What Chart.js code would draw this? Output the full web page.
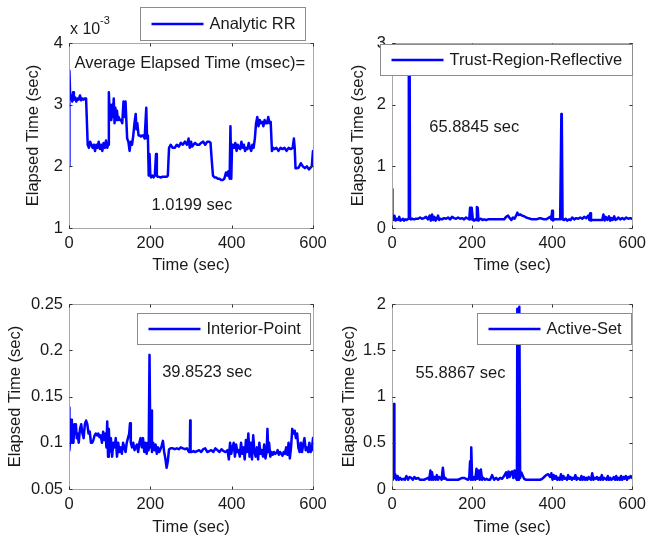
<!DOCTYPE html>
<html><head><meta charset="utf-8">
<script src="https://cdn.jsdelivr.net/npm/chart.js@4.4.1/dist/chart.umd.min.js"></script>
<style>
html,body{margin:0;padding:0;background:#fff;}
#wrap{position:relative;width:652px;height:537px;overflow:hidden;}
#wrap canvas{position:absolute;left:0;top:0;}
</style></head><body>
<div id="wrap">
<canvas id="c1" width="652" height="537"></canvas>
<canvas id="c2" width="652" height="537"></canvas>
<canvas id="c3" width="652" height="537"></canvas>
<canvas id="c4" width="652" height="537"></canvas>
</div>
<script>
// ---------- DATA ----------
const xTicks = [0, 200, 400, 600];

// Analytic RR (elapsed time, x 10^-3 sec)
const timeRR = [
 0,1,3,5,8,10,12,15,18,21,
 24,27,30,33,36,39,42,44,46,49,
 52,55,58,61,64,67,70,73,76,79,
 82,85,88,91,94,96,98,100,102,104,
 106,108,110,112,114,116,118,120,122,125,
 128,131,134,137,139,141,143,146,149,152,
 155,158,161,164,166,168,171,174,177,180,
 183,186,188,190,192,194,196,198,200,202,
 205,208,211,214,216,218,221,225,230,235,
 240,243,246,250,255,260,265,270,275,280,
 285,290,294,297,300,303,306,310,315,320,
 325,330,335,340,345,348,351,354,358,362,
 366,370,374,378,382,386,389,392,395,397,
 399,401,403,406,409,412,415,418,421,424,
 427,430,433,436,439,442,445,448,451,454,
 457,460,463,466,469,472,475,478,481,484,
 487,490,493,496,499,502,505,510,515,520,
 525,530,535,540,545,550,553,555,557,560,
 565,570,575,580,585,590,594,597,600];
const analyticRR = [
 2.0,3.55,3.1,3.15,3.05,3.2,3.08,3.12,3.05,3.1,
 3.08,3.15,3.07,3.1,3.08,3.1,3.1,3.1,2.35,2.3,
 2.4,2.35,2.3,2.35,2.25,2.35,2.3,2.4,2.28,2.35,
 2.25,2.38,2.3,2.42,2.3,2.35,3.2,2.8,3.0,2.75,
 3.0,2.8,3.1,2.7,2.95,2.75,2.9,2.75,2.8,2.75,
 2.75,2.7,3.05,2.8,3.05,2.75,2.45,2.4,2.25,2.4,
 2.35,2.5,2.7,2.85,2.6,2.7,2.5,2.5,2.48,2.5,
 2.5,2.45,2.7,2.95,2.45,2.5,1.85,2.2,1.85,1.82,
 1.85,1.82,1.85,2.2,1.85,1.83,1.83,1.82,1.83,1.83,
 1.83,1.85,2.3,2.35,2.3,2.3,2.35,2.32,2.38,2.35,
 2.4,2.35,2.45,2.3,2.4,2.32,2.35,2.38,2.35,2.35,
 2.38,2.4,2.35,2.4,2.4,2.38,2.1,1.85,1.82,1.82,
 1.8,1.8,1.78,1.78,1.8,1.9,1.85,1.92,1.8,2.65,
 1.8,2.35,2.3,2.3,2.38,2.25,2.35,2.3,2.28,2.4,
 2.3,2.35,2.25,2.3,2.28,2.38,2.3,2.25,2.35,2.3,
 2.45,2.7,2.8,2.65,2.75,2.7,2.72,2.65,2.75,2.7,
 2.7,2.8,2.7,2.72,2.25,2.3,2.28,2.3,2.25,2.3,
 2.28,2.3,2.25,2.3,2.28,2.3,2.45,2.3,1.97,1.97,
 1.98,2.05,2.0,1.97,2.0,1.95,1.98,2.0,2.25];

// Trust-Region-Reflective (sec)
const timeTRR = [
 0,1,3,6,9,12,15,18,21,24,
 27,30,33,36,39,41,42,44,45,47,
 50,55,60,65,70,75,80,85,90,94,
 97,100,103,106,109,112,115,118,121,125,
 130,135,140,145,150,155,160,165,170,175,
 180,185,190,193,195,197,199,202,205,208,
 210,212,214,216,218,222,226,230,235,240,
 245,250,255,260,265,270,275,280,285,290,
 294,298,302,306,310,313,316,320,325,330,
 335,340,345,350,355,360,365,370,375,380,
 385,390,395,398,400,402,405,410,415,420,
 422,423,424,426,430,434,438,442,446,450,
 455,460,465,470,475,480,485,490,493,495,
 497,500,505,510,515,520,525,528,531,534,
 538,542,545,548,551,555,558,561,565,570,
 575,580,585,590,595,600];
const trustRegion = [
 0.63,0.2,0.13,0.2,0.12,0.15,0.13,0.18,0.12,0.13,
 0.15,0.12,0.14,0.13,0.14,0.15,2.9,2.9,0.16,0.14,
 0.15,0.14,0.15,0.15,0.17,0.15,0.16,0.18,0.14,0.2,
 0.12,0.22,0.13,0.18,0.12,0.15,0.2,0.13,0.15,0.14,
 0.16,0.15,0.17,0.14,0.18,0.16,0.15,0.17,0.15,0.16,
 0.14,0.17,0.15,0.14,0.33,0.14,0.33,0.13,0.12,0.14,
 0.13,0.34,0.33,0.12,0.14,0.15,0.13,0.14,0.13,0.14,
 0.14,0.14,0.14,0.14,0.14,0.14,0.14,0.14,0.18,0.2,
 0.16,0.13,0.17,0.15,0.2,0.25,0.21,0.22,0.2,0.19,
 0.17,0.16,0.15,0.14,0.14,0.14,0.15,0.16,0.15,0.14,
 0.14,0.16,0.18,0.14,0.28,0.12,0.14,0.14,0.14,0.14,
 0.14,1.85,1.84,0.14,0.13,0.15,0.12,0.14,0.13,0.17,
 0.14,0.16,0.15,0.17,0.15,0.18,0.16,0.2,0.13,0.24,
 0.12,0.13,0.13,0.13,0.13,0.13,0.13,0.22,0.12,0.18,
 0.13,0.19,0.12,0.16,0.13,0.19,0.13,0.14,0.17,0.14,
 0.16,0.14,0.17,0.15,0.16,0.15];

// Interior-Point (sec)
const timeIP = [
 0,1,3,5,7,9,11,13,15,17,
 19,21,24,27,30,33,36,39,42,45,
 48,51,54,57,60,63,66,69,72,75,
 78,81,84,87,90,92,94,96,98,100,
 103,106,109,112,115,118,121,124,127,130,
 133,136,139,142,145,148,150,152,155,158,
 161,164,167,170,173,176,179,182,185,188,
 191,194,196,198,200,202,204,207,210,213,
 216,219,222,225,228,231,234,237,240,243,
 246,250,255,260,265,270,275,280,285,290,
 295,297,298,299,302,306,310,315,320,325,
 330,335,340,345,350,355,360,365,370,375,
 380,385,390,393,396,399,402,405,408,411,
 414,417,420,423,426,429,432,435,438,441,
 444,447,450,453,456,459,462,465,468,471,
 474,477,480,483,486,488,490,492,495,498,
 501,504,507,510,513,516,519,522,525,528,
 531,534,537,540,543,546,549,552,555,558,
 561,564,567,570,573,576,579,582,585,588,
 591,594,597,600];
const interiorPoint = [
 0.138,0.092,0.105,0.125,0.1,0.115,0.1,0.12,0.11,0.12,
 0.105,0.11,0.1,0.115,0.12,0.11,0.105,0.12,0.124,0.12,
 0.11,0.112,0.1,0.1,0.103,0.108,0.11,0.108,0.11,0.106,
 0.108,0.1,0.112,0.103,0.11,0.095,0.123,0.085,0.115,0.09,
 0.105,0.085,0.1,0.095,0.105,0.085,0.1,0.09,0.095,0.088,
 0.1,0.095,0.09,0.1,0.105,0.11,0.121,0.1,0.095,0.1,
 0.092,0.095,0.098,0.09,0.1,0.105,0.095,0.105,0.09,0.1,
 0.088,0.1,0.092,0.195,0.095,0.135,0.09,0.1,0.092,0.098,
 0.088,0.095,0.09,0.093,0.097,0.102,0.09,0.083,0.073,0.08,
 0.093,0.094,0.094,0.093,0.094,0.093,0.095,0.094,0.093,0.094,
 0.09,0.09,0.124,0.09,0.09,0.091,0.09,0.091,0.092,0.09,
 0.093,0.094,0.09,0.091,0.092,0.09,0.094,0.092,0.09,0.093,
 0.091,0.09,0.092,0.082,0.1,0.088,0.095,0.1,0.085,0.098,
 0.09,0.092,0.085,0.1,0.088,0.095,0.082,0.103,0.09,0.11,
 0.085,0.1,0.082,0.108,0.09,0.085,0.095,0.082,0.1,0.088,
 0.092,0.085,0.098,0.083,0.09,0.115,0.09,0.1,0.085,0.09,
 0.087,0.09,0.088,0.089,0.092,0.087,0.09,0.088,0.086,0.09,
 0.088,0.095,0.087,0.1,0.083,0.095,0.115,0.11,0.113,0.105,
 0.11,0.095,0.09,0.1,0.09,0.098,0.105,0.092,0.095,0.09,
 0.1,0.09,0.092,0.105];

// Active-Set (sec)
const timeAS = [
 0,2,4,5,6,8,11,14,17,20,
 24,28,32,36,40,44,48,52,56,60,
 65,70,75,80,85,90,93,96,98,100,
 103,106,109,112,115,118,121,124,127,130,
 133,137,141,145,150,155,160,165,170,175,
 180,185,190,193,195,197,198,200,202,205,
 208,211,213,216,219,222,225,228,232,236,
 240,245,250,255,260,265,270,275,280,285,
 288,291,294,297,300,303,306,309,312,313,
 315,317,318,320,323,326,330,335,340,345,
 350,355,360,365,370,375,380,385,390,395,
 398,401,404,407,410,413,416,419,422,425,
 428,431,434,437,440,443,446,449,452,455,
 458,461,464,467,470,473,476,479,482,485,
 488,491,494,497,500,503,506,509,512,515,
 518,521,524,527,530,533,536,539,542,545,
 548,551,554,557,560,563,566,569,572,575,
 578,581,584,587,590,593,596,600];
const activeSet = [
 0.2,0.1,0.12,0.92,0.12,0.16,0.1,0.14,0.1,0.12,
 0.1,0.11,0.1,0.14,0.1,0.13,0.12,0.1,0.13,0.11,
 0.12,0.1,0.1,0.1,0.11,0.12,0.1,0.2,0.1,0.18,
 0.1,0.13,0.1,0.15,0.1,0.13,0.12,0.1,0.23,0.11,
 0.12,0.1,0.1,0.1,0.1,0.1,0.1,0.1,0.11,0.12,
 0.12,0.11,0.1,0.13,0.3,0.1,0.45,0.12,0.1,0.13,
 0.1,0.22,0.11,0.2,0.1,0.21,0.1,0.12,0.1,0.11,
 0.1,0.1,0.15,0.1,0.12,0.1,0.12,0.11,0.14,0.18,
 0.12,0.19,0.13,0.18,0.19,0.12,0.2,0.12,0.1,1.95,
 0.1,1.2,1.97,0.12,0.18,0.15,0.11,0.1,0.1,0.1,
 0.1,0.1,0.1,0.1,0.1,0.11,0.13,0.15,0.16,0.13,
 0.17,0.1,0.15,0.11,0.14,0.1,0.12,0.1,0.16,0.1,
 0.14,0.11,0.12,0.1,0.15,0.11,0.13,0.1,0.12,0.11,
 0.15,0.1,0.12,0.11,0.1,0.14,0.1,0.13,0.1,0.12,
 0.1,0.13,0.11,0.1,0.17,0.1,0.12,0.11,0.13,0.1,
 0.12,0.1,0.15,0.1,0.12,0.11,0.1,0.14,0.1,0.12,
 0.1,0.11,0.13,0.1,0.14,0.1,0.12,0.1,0.14,0.1,
 0.13,0.11,0.14,0.1,0.13,0.12,0.14,0.12];

const seriesLabels = ['Analytic RR', 'Trust-Region-Reflective', 'Interior-Point', 'Active-Set'];
const totalTimes = ['1.0199 sec', '65.8845 sec', '39.8523 sec', '55.8867 sec'];

// ---------- RENDER ----------
const FAMILY = '"Liberation Sans", Arial, Helvetica, sans-serif';
const FS = 16.5;
const FONT = {family: FAMILY, size: FS, lineHeight: 1.2};
const TXT = '#1a1a1a';

const decor = {
  id: 'decor',
  afterDatasetsDraw(chart, args, o) {
    const {ctx, chartArea: a, scales: {x, y}} = chart;
    ctx.save();
    // axes box
    const L = Math.round(a.left) + 0.5, R = Math.round(a.right) + 0.5;
    const T = Math.round(a.top) + 0.5, B = Math.round(a.bottom) + 0.5;
    ctx.strokeStyle = '#a8a8a8'; ctx.lineWidth = 1;
    ctx.strokeRect(L, T, R - L, B - T);
    // inward ticks
    ctx.strokeStyle = '#303030';
    ctx.beginPath();
    x.ticks.forEach(t => {
      const p = Math.round(x.getPixelForValue(t.value)) + 0.5;
      ctx.moveTo(p, B); ctx.lineTo(p, B - 3);
      ctx.moveTo(p, T); ctx.lineTo(p, T + 3);
    });
    y.ticks.forEach(t => {
      const p = Math.round(y.getPixelForValue(t.value)) + 0.5;
      ctx.moveTo(L, p); ctx.lineTo(L + 3, p);
      ctx.moveTo(R, p); ctx.lineTo(R - 3, p);
    });
    ctx.stroke();
    // annotation texts (data coordinates)
    ctx.fillStyle = TXT;
    ctx.font = FS + 'px ' + FAMILY;
    ctx.textBaseline = 'middle';
    (o.texts || []).forEach(t => {
      ctx.textAlign = t.align || 'left';
      ctx.fillText(t.text, x.getPixelForValue(t.x), y.getPixelForValue(t.y));
    });
    // exponent label
    if (o.exponent) {
      ctx.textAlign = 'left';
      ctx.font = '16px ' + FAMILY;
      ctx.fillText('x 10', a.left + 1, a.top - 13);
      ctx.font = '11px ' + FAMILY;
      ctx.fillText(o.exponent, a.left + 31, a.top - 22);
    }
    // legend
    const lg = o.legend;
    ctx.font = FS + 'px ' + FAMILY;
    const tw = ctx.measureText(lg.text).width;
    const w = 69 + tw + 10, h = lg.h;
    const bx = Math.round(a.right - lg.dr - w) + 0.5, by = Math.round(a.top + lg.dt) + 0.5;
    ctx.fillStyle = '#ffffff';
    ctx.fillRect(bx, by, w, h);
    ctx.strokeStyle = '#8c8c8c'; ctx.lineWidth = 1;
    ctx.strokeRect(bx, by, Math.round(w), h);
    const cy = by + h / 2;
    ctx.strokeStyle = '#0000ff'; ctx.lineWidth = 2.5;
    ctx.beginPath(); ctx.moveTo(bx + 11, cy); ctx.lineTo(bx + 63, cy); ctx.stroke();
    ctx.fillStyle = TXT; ctx.textAlign = 'left'; ctx.textBaseline = 'middle';
    ctx.fillText(lg.text, bx + 69, cy + 0.5);
    ctx.restore();
  }
};

function makeChart(id, xs, ys, cfg) {
  if (xs.length !== ys.length) throw new Error(id + ' length mismatch ' + xs.length + ' vs ' + ys.length);
  const pts = xs.map((t, i) => ({x: t, y: ys[i]}));
  return new Chart(document.getElementById(id), {
    type: 'line',
    data: {datasets: [{label: cfg.label, data: pts, borderColor: '#0000ff', borderWidth: 2.5,
      pointRadius: 0, tension: 0, fill: false, borderJoinStyle: 'round', borderCapStyle: 'round'}]},
    options: {
      responsive: false, animation: false, devicePixelRatio: 1,
      layout: {padding: cfg.pad},
      plugins: {legend: {display: false}, tooltip: {enabled: false}, decor: cfg.decor},
      scales: {
        x: {type: 'linear', min: xTicks[0], max: xTicks[xTicks.length - 1],
          afterBuildTicks: s => { s.ticks = xTicks.map(v => ({value: v})); },
          ticks: {padding: 6, color: TXT, font: FONT, maxRotation: 0, autoSkip: false},
          grid: {display: false, drawTicks: false}, border: {display: false},
          title: {display: true, text: 'Time (sec)', color: TXT, font: FONT, padding: 0},
          afterFit: s => { s.height = cfg.xh; }},
        y: {type: 'linear', min: cfg.ymin, max: cfg.ymax,
          afterBuildTicks: s => { s.ticks = cfg.yTicks.map(v => ({value: v})); },
          ticks: {padding: 6, color: TXT, font: FONT, callback: v => String(v)},
          grid: {display: false, drawTicks: false}, border: {display: false},
          title: {display: true, text: 'Elapsed Time (sec)', color: TXT, font: FONT, padding: 0},
          afterFit: s => { s.width = cfg.yw; }}
      }
    },
    plugins: [decor]
  });
}

const HALF = FS * 1.2 / 2;
function padFor(area, yTitleX, xTitleY) {
  const left = yTitleX - HALF;
  const xBottom = xTitleY + HALF;
  return {
    pad: {left: left, top: area.top, right: 652 - area.right, bottom: 537 - xBottom},
    yw: area.left - left, xh: xBottom - area.bottom
  };
}

const p1 = padFor({left: 69, right: 313, top: 43, bottom: 228}, 33.5, 265);
makeChart('c1', timeRR, analyticRR, Object.assign(p1, {
  label: seriesLabels[0], ymin: 1, ymax: 4, yTicks: [1, 2, 3, 4],
  decor: {exponent: '-3', legend: {text: seriesLabels[0], dr: 8, dt: -36, h: 33},
    texts: [{text: 'Average Elapsed Time (msec)=', x: 297, y: 3.676, align: 'center'},
            {text: totalTimes[0], x: 302, y: 1.373, align: 'center'}]}
}));

const p2 = padFor({left: 392, right: 636, top: 43, bottom: 228}, 358.5, 265);
makeChart('c2', timeTRR, trustRegion, Object.assign(p2, {
  label: seriesLabels[1], ymin: 0, ymax: 3, yTicks: [0, 1, 2, 3],
  decor: {legend: {text: seriesLabels[1], dr: 1, dt: 1, h: 31},
    texts: [{text: totalTimes[1], x: 93, y: 1.638}]}
}));

const p3 = padFor({left: 69, right: 313, top: 304, bottom: 489}, 15.5, 527);
makeChart('c3', timeIP, interiorPoint, Object.assign(p3, {
  label: seriesLabels[2], ymin: 0.05, ymax: 0.25, yTicks: [0.05, 0.1, 0.15, 0.2, 0.25],
  decor: {legend: {text: seriesLabels[2], dr: 3, dt: 9, h: 31},
    texts: [{text: totalTimes[2], x: 229, y: 0.1765}]}
}));

const p4 = padFor({left: 392, right: 636, top: 304, bottom: 489}, 349, 527);
makeChart('c4', timeAS, activeSet, Object.assign(p4, {
  label: seriesLabels[3], ymin: 0, ymax: 2, yTicks: [0, 0.5, 1, 1.5, 2],
  decor: {legend: {text: seriesLabels[3], dr: 1, dt: 9, h: 31},
    texts: [{text: totalTimes[3], x: 59, y: 1.254}]}
}));
</script>
</body></html>
